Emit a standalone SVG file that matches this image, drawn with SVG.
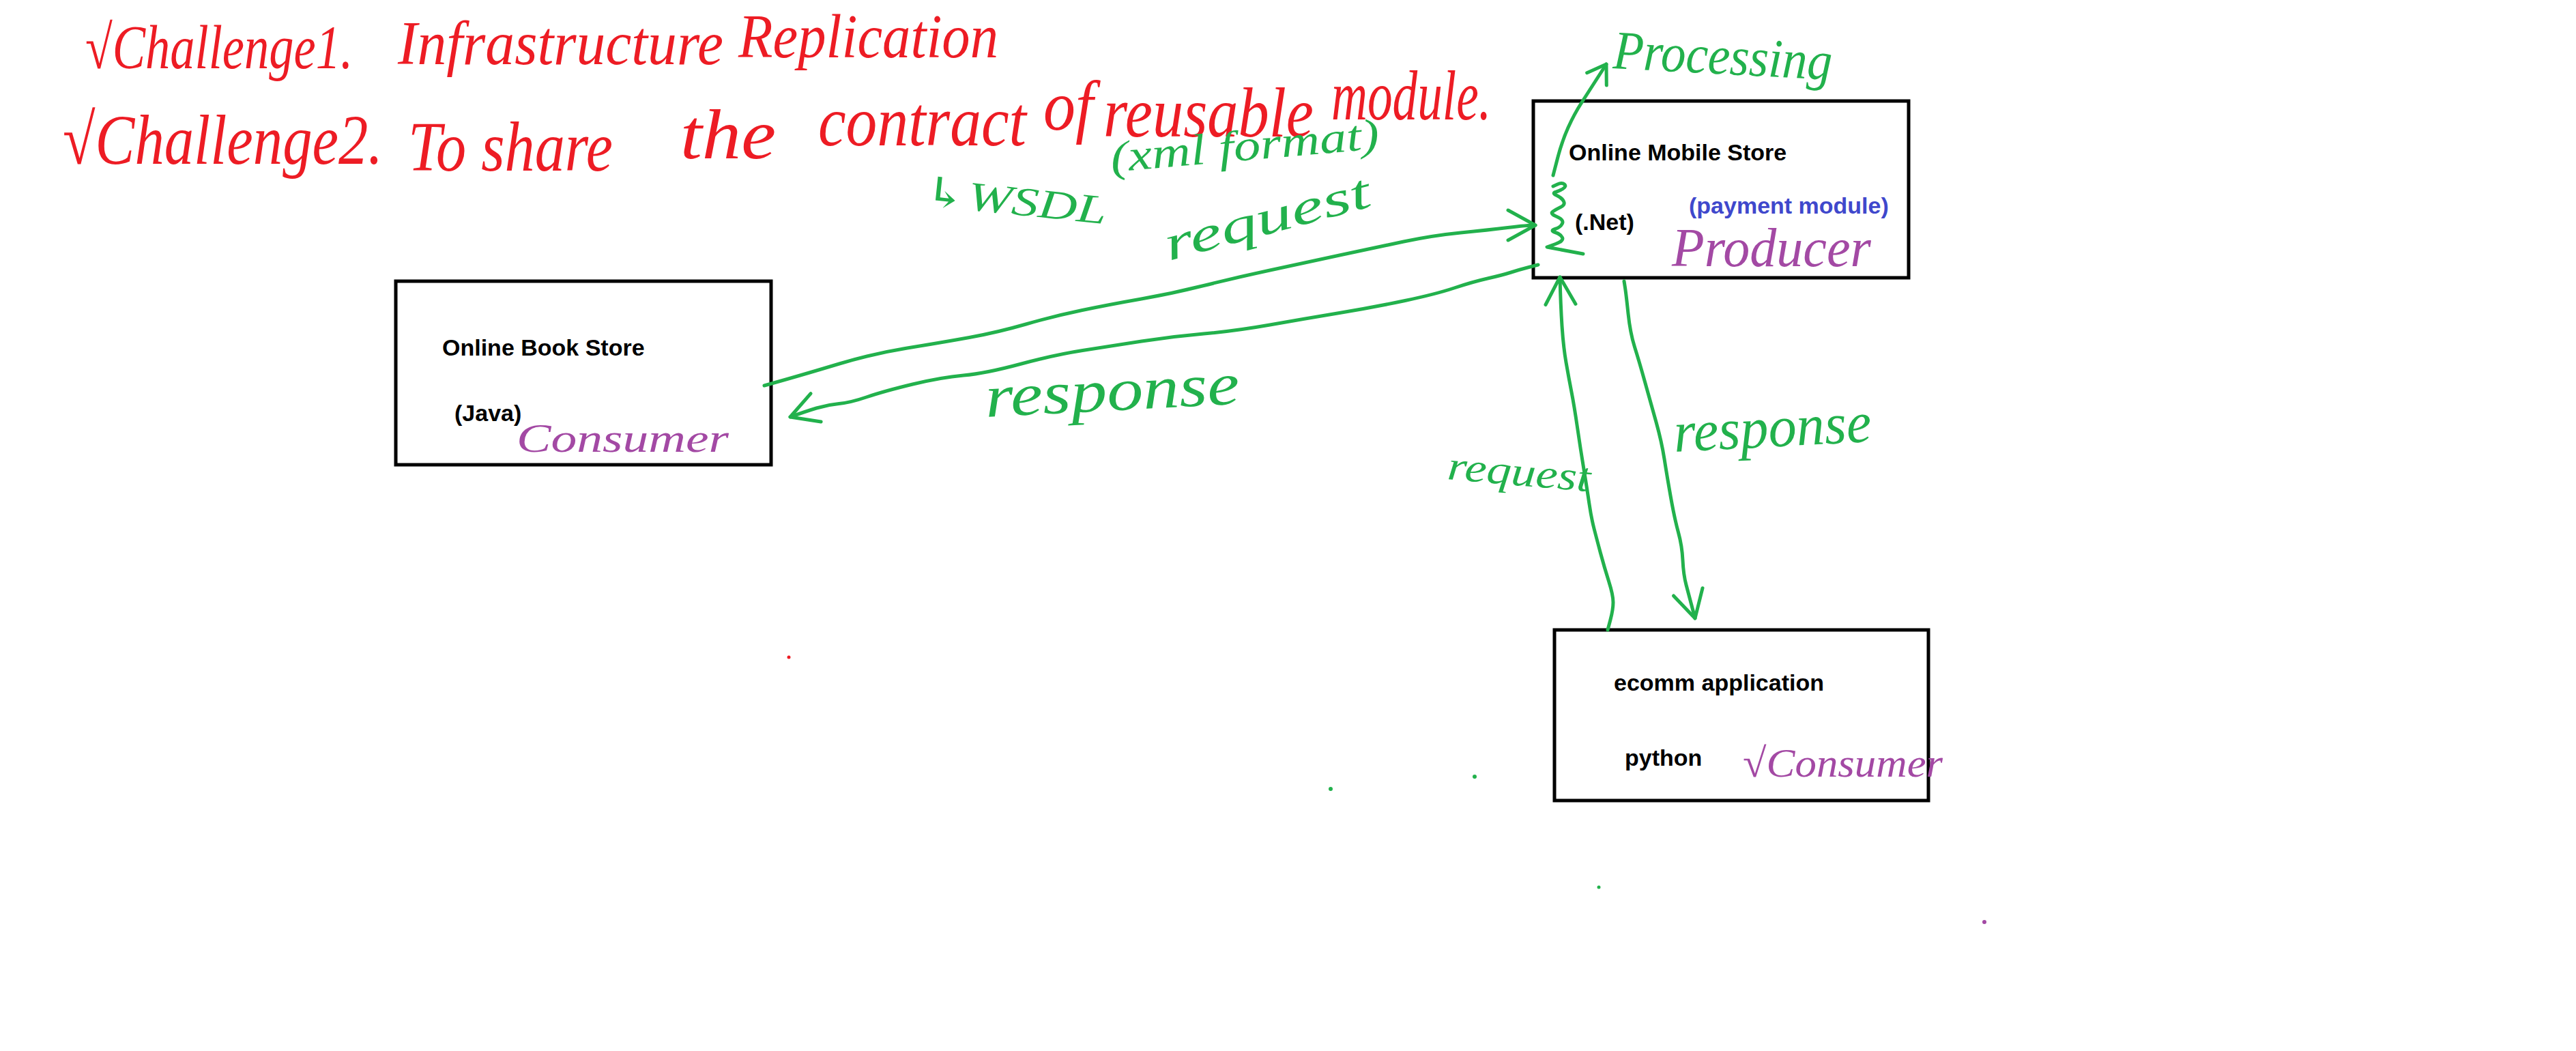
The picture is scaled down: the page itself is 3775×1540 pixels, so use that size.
<svg xmlns="http://www.w3.org/2000/svg" width="3775" height="1540" viewBox="0 0 3775 1540">
<style>
  .box { fill: #FFFFFF; stroke: #000000; stroke-width: 5; }
  .lbl { font-family: "Liberation Sans", "DejaVu Sans", sans-serif; font-weight: bold; font-size: 34px; fill: #000000; }
  .blue { fill: #3F48CC; }
  .hw { font-family: "Liberation Serif", "DejaVu Serif", serif; font-style: italic; }
  .red { fill: #ED1C24; }
  .green { fill: #22B14C; }
  .purple { fill: #A349A4; }
  .c2 { font-size: 87px; }
  .wire { fill: none; stroke: #22B14C; stroke-width: 5; stroke-linecap: round; stroke-linejoin: round; }
</style>
<defs>
  <marker id="ah" viewBox="-50 -30 60 60" refX="0" refY="0" markerWidth="60" markerHeight="60" markerUnits="userSpaceOnUse" orient="auto">
    <path d="M -40 -22 L 0 0 L -40 22" fill="none" stroke="#22B14C" stroke-width="5" stroke-linecap="round" stroke-linejoin="round"/>
  </marker>
  <marker id="ah-sm" viewBox="-40 -25 50 50" refX="0" refY="0" markerWidth="50" markerHeight="50" markerUnits="userSpaceOnUse" orient="auto">
    <path d="M -26 -17 L 0 0 L -26 17" fill="none" stroke="#22B14C" stroke-width="5" stroke-linecap="round" stroke-linejoin="round"/>
  </marker>
</defs>
<rect width="3775" height="1540" fill="#FFFFFF"/>

<g id="challenges">
  <text class="hw red" font-size="90" x="125" y="100" textLength="392" lengthAdjust="spacingAndGlyphs">√Challenge1.</text>
  <text class="hw red" font-size="90" x="583" y="94" textLength="477" lengthAdjust="spacingAndGlyphs">Infrastructure</text>
  <text class="hw red" font-size="90" x="1082" y="84" textLength="381" lengthAdjust="spacingAndGlyphs">Replication</text>
  <text class="hw red c2" transform="translate(92 240) scale(1 1.2)" x="0" y="0" textLength="469" lengthAdjust="spacingAndGlyphs">√Challenge2.</text>
  <text class="hw red c2" transform="translate(598 250) scale(1 1.2)" x="0" y="0" textLength="300" lengthAdjust="spacingAndGlyphs">To share</text>
  <text class="hw red c2" transform="translate(997 232) scale(1 1.2)" x="0" y="0" textLength="140" lengthAdjust="spacingAndGlyphs">the</text>
  <text class="hw red c2" transform="translate(1199 213) scale(1 1.2)" x="0" y="0" textLength="305" lengthAdjust="spacingAndGlyphs">contract</text>
  <text class="hw red c2" transform="translate(1529 190) scale(1 1.2)" x="0" y="0" textLength="73" lengthAdjust="spacingAndGlyphs">of</text>
  <text class="hw red c2" transform="translate(1617 200) scale(1 1.2)" x="0" y="0" textLength="308" lengthAdjust="spacingAndGlyphs">reusable</text>
  <text class="hw red c2" transform="translate(1951 175) scale(1 1.2)" x="0" y="0" textLength="234" lengthAdjust="spacingAndGlyphs">module.</text>
</g>

<g id="node-book-store">
  <rect class="box" x="580" y="412" width="550" height="269"/>
  <text class="lbl" x="648" y="521">Online Book Store</text>
  <text class="lbl" x="666" y="617">(Java)</text>
  <text class="hw purple" font-size="60" x="757" y="662" textLength="311" lengthAdjust="spacingAndGlyphs">Consumer</text>
</g>

<g id="node-mobile-store">
  <rect class="box" x="2247" y="148" width="550" height="259"/>
  <text class="lbl" x="2299" y="235">Online Mobile Store</text>
  <text class="lbl" x="2308" y="337">(.Net)</text>
  <text class="lbl blue" x="2475" y="313">(payment module)</text>
  <text class="hw purple" font-size="80" x="2450" y="390" textLength="292" lengthAdjust="spacingAndGlyphs">Producer</text>
</g>

<g id="node-ecomm">
  <rect class="box" x="2278" y="923" width="548" height="250"/>
  <text class="lbl" x="2365" y="1012">ecomm application</text>
  <text class="lbl" x="2381" y="1122">python</text>
  <text class="hw purple" font-size="60" x="2554" y="1138" textLength="293" lengthAdjust="spacingAndGlyphs">√Consumer</text>
</g>

<g id="connectors">
  <path class="wire" marker-end="url(#ah)" d="M 1120 565 L 1150 556.5 Q 1180 548 1230 533 Q 1280 518 1329.5 510 Q 1379 502 1420.5 494.5 Q 1462 487 1503.5 475 Q 1545 463 1586 454.5 Q 1627 446 1672.5 438 Q 1718 430 1764 418.5 Q 1810 407 1861 396 Q 1912 385 1963 374 Q 2014 363 2057 354 Q 2100 345 2140.5 341 Q 2181 337 2209.5 333.5 Q 2238 330 2250 330"/>
  <path class="wire" marker-end="url(#ah)" d="M 2254 388 L 2240.5 391.5 Q 2227 395 2214.5 399 Q 2202 403 2180 408 Q 2158 413 2131 422 Q 2104 431 2059 440.5 Q 2014 450 1963 458.5 Q 1912 467 1861 476 Q 1810 485 1764 489 Q 1718 493 1673 500 Q 1628 507 1586.5 513.5 Q 1545 520 1495 533.5 Q 1445 547 1412 550 Q 1379 553 1337.5 563 Q 1296 573 1271 581.5 Q 1246 590 1229.5 591.5 Q 1213 593 1196.5 598 Q 1180 603 1158 611"/>
  <path class="wire" marker-end="url(#ah)" d="M 2356 923 L 2360 908 Q 2364 893 2364 882.5 Q 2364 872 2357.5 851.5 Q 2351 831 2345.5 810.5 Q 2340 790 2336 774.5 Q 2332 759 2329 738.5 Q 2326 718 2321 687.5 Q 2316 657 2311.5 626 Q 2307 595 2303 574.5 Q 2299 554 2295 531 Q 2291 508 2289 477.5 Q 2287 447 2286 406"/>
  <path class="wire" marker-end="url(#ah)" d="M 2380 412 L 2381.5 421.5 Q 2383 431 2386 459.5 Q 2389 488 2395.5 508.5 Q 2402 529 2410.5 559.5 Q 2419 590 2427 618.5 Q 2435 647 2439 672.5 Q 2443 698 2448.5 729 Q 2454 760 2459.5 780 Q 2465 800 2466 821 Q 2467 842 2471 857 Q 2475 872 2484 906"/>
  <path class="wire" marker-end="url(#ah-sm)" d="M 2276 257 L 2282.5 232 Q 2289 207 2298 187 Q 2307 167 2318 150 Q 2329 133 2354 94"/>
  <path class="wire" d="M 2276 273 L 2282.5 270 Q 2289 267 2292.5 270 Q 2296 273 2290.5 276.5 Q 2285 280 2279.5 281.5 Q 2274 283 2281.5 286.5 Q 2289 290 2291.5 295 Q 2294 300 2287 303.5 Q 2280 307 2275.5 310 Q 2271 313 2281.5 317.5 Q 2292 322 2289.5 327.5 Q 2287 333 2279 335.5 Q 2271 338 2279 340.5 Q 2287 343 2289.5 348 Q 2292 353 2279.5 357.5 L 2267 362 L 2320 372"/>
</g>

<g id="annotations">
  <text class="hw green" font-size="80" x="2363" y="100" textLength="321" lengthAdjust="spacingAndGlyphs" transform="rotate(3 2363 100)">Processing</text>
  <text class="hw green" font-size="60" x="1351" y="300" textLength="270" lengthAdjust="spacingAndGlyphs" transform="rotate(6 1351 300)">↳WSDL</text>
  <text class="hw green" font-size="64" x="1629" y="252" textLength="395" lengthAdjust="spacingAndGlyphs" transform="rotate(-5 1629 252)">(xml format)</text>
  <text class="hw green" font-size="72" x="1713" y="382" textLength="310" lengthAdjust="spacingAndGlyphs" transform="rotate(-15 1713 382)">request</text>
  <text class="hw green" font-size="88" x="1445" y="611" textLength="373" lengthAdjust="spacingAndGlyphs" transform="rotate(-3 1445 611)">response</text>
  <text class="hw green" font-size="60" x="2120" y="702" textLength="210" lengthAdjust="spacingAndGlyphs" transform="rotate(5 2120 702)">request</text>
  <text class="hw green" font-size="85" x="2454" y="662" textLength="290" lengthAdjust="spacingAndGlyphs" transform="rotate(-3 2454 662)">response</text>
</g>

<g id="stray-marks">
  <circle cx="1156" cy="963" r="2.5" fill="#ED1C24"/>
  <circle cx="1950" cy="1156" r="3" fill="#22B14C"/>
  <circle cx="2161" cy="1138" r="3" fill="#22B14C"/>
  <circle cx="2343" cy="1300" r="2.5" fill="#22B14C"/>
  <circle cx="2908" cy="1351" r="3" fill="#A349A4"/>
</g>
</svg>
